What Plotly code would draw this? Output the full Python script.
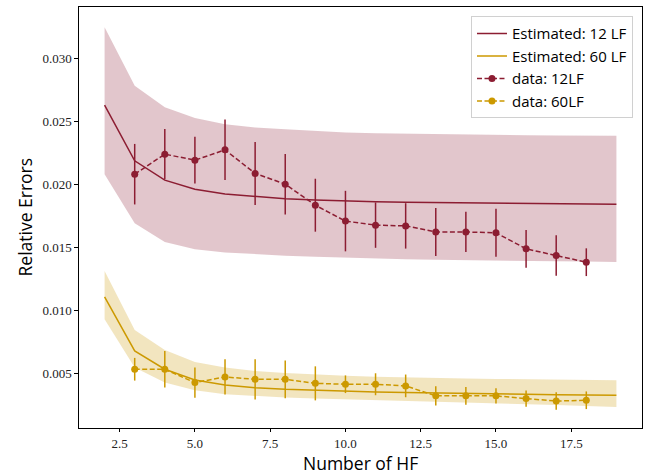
import plotly.graph_objects as go

# ---- data ----
x_est = list(range(2, 20))
est12 = [0.02627, 0.02185, 0.02032, 0.01960, 0.01921, 0.01902, 0.01885, 0.01875, 0.01866,
         0.01860, 0.01856, 0.01853, 0.01850, 0.01848, 0.01846, 0.01844, 0.01842, 0.01841]
up12 = [0.03244, 0.02780, 0.02609, 0.02524, 0.02476, 0.02450, 0.02435, 0.02420, 0.02410,
        0.02404, 0.02400, 0.02396, 0.02393, 0.02390, 0.02388, 0.02386, 0.02384, 0.02383]
lo12 = [0.02079, 0.01690, 0.01542, 0.01484, 0.01458, 0.01444, 0.01433, 0.01424, 0.01416,
        0.01410, 0.01405, 0.01400, 0.01396, 0.01393, 0.01390, 0.01388, 0.01386, 0.01383]

est60 = [0.01106, 0.00677, 0.00532, 0.00447, 0.00407, 0.00386, 0.00373, 0.00365, 0.00358,
         0.00352, 0.00347, 0.00342, 0.00339, 0.00336, 0.00333, 0.00330, 0.00327, 0.00325]
up60 = [0.01312, 0.00844, 0.00685, 0.00590, 0.00545, 0.00518, 0.00502, 0.00490, 0.00480,
        0.00473, 0.00467, 0.00462, 0.00458, 0.00455, 0.00452, 0.00449, 0.00446, 0.00444]
lo60 = [0.00929, 0.00545, 0.00426, 0.00365, 0.00333, 0.00318, 0.00308, 0.00300, 0.00294,
        0.00288, 0.00282, 0.00276, 0.00270, 0.00262, 0.00255, 0.00248, 0.00240, 0.00233]

x_data = list(range(3, 19))
d12 = [0.02079, 0.02238, 0.02190, 0.02272, 0.02085, 0.02000, 0.01833, 0.01707,
       0.01675, 0.01669, 0.01621, 0.01621, 0.01614, 0.01487, 0.01434, 0.01381]
e12 = [0.0024, 0.0020, 0.00185, 0.0024, 0.0025, 0.0024, 0.0021, 0.0024,
       0.0018, 0.0018, 0.0019, 0.0016, 0.0019, 0.0015, 0.0016, 0.0011]
d60 = [0.00532, 0.00532, 0.00426, 0.00471, 0.00452, 0.00452, 0.00420, 0.00413,
       0.00413, 0.00400, 0.00321, 0.00321, 0.00321, 0.00299, 0.00280, 0.00286]
e60 = [0.0009, 0.00145, 0.0012, 0.0014, 0.0016, 0.0015, 0.00135, 0.0007,
       0.00087, 0.0009, 0.00077, 0.0007, 0.0006, 0.00065, 0.0007, 0.0007]

x_ticks = [2.5, 5.0, 7.5, 10.0, 12.5, 15.0, 17.5]
y_ticks = [0.005, 0.010, 0.015, 0.020, 0.025, 0.030]
x_title = "Number of HF"
y_title = "Relative Errors"

# ---- styles ----
MAROON = "rgb(140,29,50)"
GOLD = "rgb(204,153,0)"
MAROON_BAND = "rgba(140,29,50,0.25)"
GOLD_BAND = "rgba(204,153,0,0.25)"

fig = go.Figure()

# bands
for up, lo, col in [(up12, lo12, MAROON_BAND), (up60, lo60, GOLD_BAND)]:
    fig.add_trace(go.Scatter(x=x_est, y=up, mode="lines", line=dict(width=0),
                             showlegend=False, hoverinfo="skip"))
    fig.add_trace(go.Scatter(x=x_est, y=lo, mode="lines", line=dict(width=0),
                             fill="tonexty", fillcolor=col, showlegend=False,
                             hoverinfo="skip"))

# estimated lines
fig.add_trace(go.Scatter(x=x_est, y=est12, mode="lines", name="Estimated: 12 LF",
                         legendgroup="a", line=dict(color=MAROON, width=1.5)))
fig.add_trace(go.Scatter(x=x_est, y=est60, mode="lines", name="Estimated: 60 LF",
                         legendgroup="b", line=dict(color=GOLD, width=1.5)))

# data with error bars
fig.add_trace(go.Scatter(x=x_data, y=d12, mode="lines+markers", name="data: 12LF",
                         legendgroup="c",
                         line=dict(color=MAROON, width=1.5, dash="5px,2.5px"),
                         marker=dict(color=MAROON, size=7),
                         error_y=dict(type="data", array=e12, visible=True,
                                      color=MAROON, thickness=1.5, width=0)))
fig.add_trace(go.Scatter(x=x_data, y=d60, mode="lines+markers", name="data: 60LF",
                         legendgroup="d",
                         line=dict(color=GOLD, width=1.5, dash="5px,2.5px"),
                         marker=dict(color=GOLD, size=7),
                         error_y=dict(type="data", array=e60, visible=True,
                                      color=GOLD, thickness=1.5, width=0)))

tick_font = dict(family="Liberation Serif, serif", size=13, color="#222")
title_font = dict(family="Open Sans, sans-serif", size=17.5, color="black")

fig.update_layout(
    width=650, height=475,
    margin=dict(l=79, r=8, t=7, b=47, autoexpand=False),
    paper_bgcolor="white", plot_bgcolor="white",
    showlegend=True,
    legend=dict(x=0.984, xanchor="right", y=0.978, yanchor="top",
                traceorder="normal", tracegroupgap=4,
                bgcolor="rgba(255,255,255,0.8)", bordercolor="#d0d0d0", borderwidth=1,
                font=dict(family="Open Sans, sans-serif", size=15, color="black")),
    xaxis=dict(range=[1.15, 19.85], tickmode="array", tickvals=x_ticks,
               ticktext=[f"{v:.1f}" for v in x_ticks],
               showgrid=False, zeroline=False, showline=True, mirror=True,
               linecolor="black", linewidth=1.2, ticks="outside", ticklen=3,
               tickcolor="black", tickfont=tick_font),
    yaxis=dict(range=[0.00066, 0.03405], tickmode="array", tickvals=y_ticks,
               ticktext=[f"{v:.3f}" for v in y_ticks],
               showgrid=False, zeroline=False, showline=True, mirror=True,
               linecolor="black", linewidth=1.2, ticks="outside", ticklen=3.5,
               tickcolor="black", tickfont=tick_font),
    annotations=[
        dict(text=x_title, xref="paper", yref="paper", x=0.5, y=0, yshift=-35,
             xanchor="center", yanchor="middle", showarrow=False, font=title_font),
        dict(text=y_title, xref="paper", yref="paper", x=0, y=0.5, xshift=-55,
             xanchor="center", yanchor="middle", textangle=-90, showarrow=False,
             font=title_font),
    ],
)

fig.write_html("out.html")
